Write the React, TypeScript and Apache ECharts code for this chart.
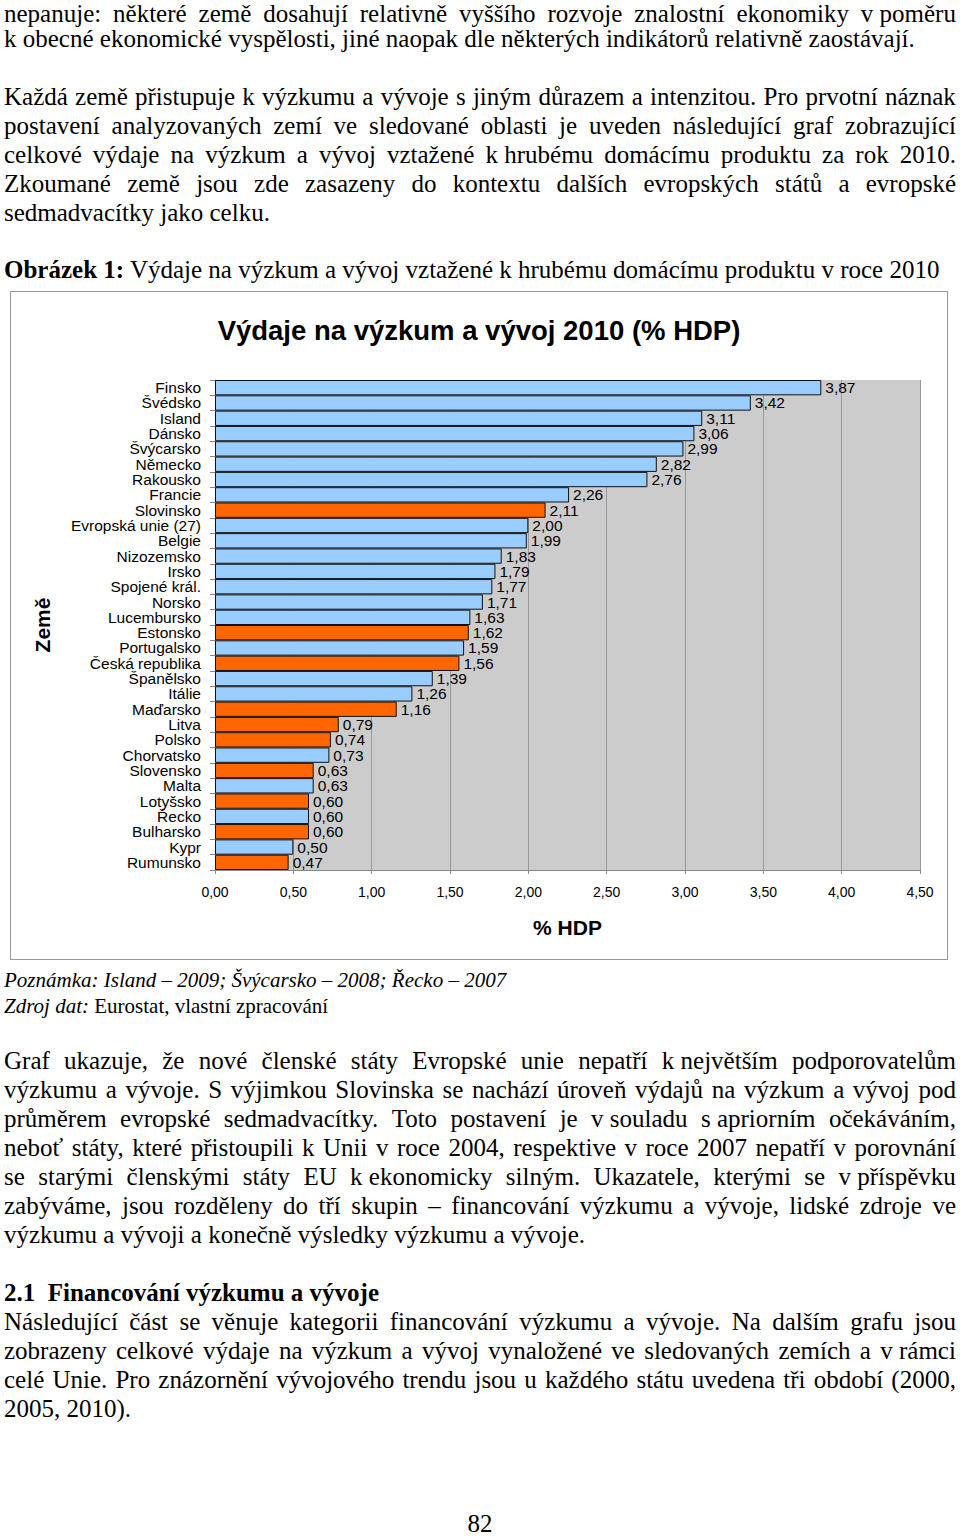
import React, { useEffect, useRef } from "react";
import * as echarts from "echarts";

const countries = [
  "Finsko", "Švédsko", "Island", "Dánsko", "Švýcarsko", "Německo", "Rakousko", "Francie",
  "Slovinsko", "Evropská unie (27)", "Belgie", "Nizozemsko", "Irsko", "Spojené král.", "Norsko",
  "Lucembursko", "Estonsko", "Portugalsko", "Česká republika", "Španělsko", "Itálie", "Maďarsko",
  "Litva", "Polsko", "Chorvatsko", "Slovensko", "Malta", "Lotyšsko", "Řecko", "Bulharsko", "Kypr", "Rumunsko",
];
const values = [
  3.87, 3.42, 3.11, 3.06, 2.99, 2.82, 2.76, 2.26,
  2.11, 2.0, 1.99, 1.83, 1.79, 1.77, 1.71,
  1.63, 1.62, 1.59, 1.56, 1.39, 1.26, 1.16,
  0.79, 0.74, 0.73, 0.63, 0.63, 0.6, 0.6, 0.6, 0.5, 0.47,
];
const newMembers = [
  "Slovinsko", "Estonsko", "Česká republika", "Maďarsko", "Litva", "Polsko",
  "Slovensko", "Lotyšsko", "Bulharsko", "Rumunsko",
];
const xMin = 0;
const xMax = 4.5;
const xStep = 0.5;

const chartTitle = "Výdaje na výzkum a vývoj 2010 (% HDP)";
const xName = "% HDP";
const yName = "Země";

const BLUE = "#99ccff";
const ORANGE = "#ff6600";
const SANS = "'Liberation Sans', Arial, sans-serif";
const SERIF = "'Liberation Serif', 'Times New Roman', serif";
const FS = 25;

const fmt = (v: number) => v.toFixed(2).replace(".", ",");

const para1 = [
  "nepanuje: některé země dosahují relativně vyššího rozvoje znalostní ekonomiky v\u00a0poměru",
  "k obecné ekonomické vyspělosti, jiné naopak dle některých indikátorů relativně zaostávají.",
];
const para2 = [
  "Každá země přistupuje k výzkumu a vývoje s jiným důrazem a intenzitou. Pro prvotní náznak",
  "postavení analyzovaných zemí ve sledované oblasti je uveden následující graf zobrazující",
  "celkové výdaje na výzkum a vývoj vztažené k\u00a0hrubému domácímu produktu za rok 2010.",
  "Zkoumané země jsou zde zasazeny do kontextu dalších evropských států a evropské",
  "sedmadvacítky jako celku.",
];
const para3 = [
  "Graf ukazuje, že nové členské státy Evropské unie nepatří k\u00a0největším podporovatelům",
  "výzkumu a vývoje. S výjimkou Slovinska se nachází úroveň výdajů na výzkum a vývoj pod",
  "průměrem evropské sedmadvacítky. Toto postavení je v\u00a0souladu s\u00a0apriorním očekáváním,",
  "neboť státy, které přistoupili k Unii v roce 2004, respektive v roce 2007 nepatří v porovnání",
  "se starými členskými státy EU k\u00a0ekonomicky silným. Ukazatele, kterými se v\u00a0příspěvku",
  "zabýváme, jsou rozděleny do tří skupin – financování výzkumu a vývoje, lidské zdroje ve",
  "výzkumu a vývoji a konečně výsledky výzkumu a vývoje.",
];
const para4 = [
  "Následující část se věnuje kategorii financování výzkumu a vývoje. Na dalším grafu jsou",
  "zobrazeny celkové výdaje na výzkum a vývoj vynaložené ve sledovaných zemích a v\u00a0rámci",
  "celé Unie. Pro znázornění vývojového trendu jsou u každého státu uvedena tři období (2000,",
  "2005, 2010).",
];

function Line(props: { y: number; text?: string; justify?: boolean; children?: any; size?: number; center?: boolean }) {
  const size = props.size ?? FS;
  const base: any = {
    position: "absolute",
    left: 4,
    width: 952,
    top: props.y - 16,
    height: 30,
    lineHeight: "30px",
    fontFamily: SERIF,
    fontSize: size,
    color: "#000",
    whiteSpace: "nowrap",
  };
  if (props.justify && props.text) {
    const words = props.text.split(" ");
    return (
      <div style={{ ...base, display: "flex", justifyContent: "space-between" }}>
        {words.map((w, i) => (
          <span key={i}>{w}</span>
        ))}
      </div>
    );
  }
  if (props.center) {
    return (
      <div
        style={{
          ...base,
          textAlign: "center",
          left: 0,
          width: 960,
          top: props.y - 13,
          height: 26,
          lineHeight: "26px",
        }}
      >
        {props.text}
      </div>
    );
  }
  return <div style={base}>{props.children ?? props.text}</div>;
}

function Para({ lines, ys }: { lines: string[]; ys: number[] }) {
  return (
    <>
      {lines.map((t, i) => (
        <Line key={i} y={ys[i]} text={t} justify={i < lines.length - 1} />
      ))}
    </>
  );
}

const seq = (y0: number, n: number) => Array.from({ length: n }, (_, i) => y0 + i * 29);

function Chart() {
  const ref = useRef<HTMLDivElement>(null);
  useEffect(() => {
    if (!ref.current) return;
    const chart = echarts.init(ref.current, undefined, { renderer: "svg" });
    chart.setOption({
      animation: false,
      backgroundColor: "#ffffff",
      title: {
        text: chartTitle,
        left: "center",
        top: 19,
        textStyle: { fontFamily: SANS, fontSize: 27.5, fontWeight: "bold", color: "#000" },
      },
      grid: {
        left: 204,
        right: 27,
        top: 88,
        bottom: 89,
        containLabel: false,
        show: true,
        backgroundColor: "#cccccc",
        borderWidth: 0,
      },
      xAxis: {
        type: "value",
        min: xMin,
        max: xMax,
        interval: xStep,
        name: xName,
        nameLocation: "middle",
        nameGap: 47,
        nameTextStyle: { fontFamily: SANS, fontSize: 21, fontWeight: "bold", color: "#000" },
        axisLine: { show: true, lineStyle: { color: "#888", width: 1 } },
        axisTick: { show: true, length: 4, lineStyle: { color: "#888" } },
        axisLabel: {
          formatter: (v: number) => fmt(v),
          fontFamily: SANS,
          fontSize: 14,
          color: "#000",
          margin: 15,
        },
        splitLine: { show: true, lineStyle: { color: "#999", width: 1 } },
      },
      yAxis: {
        type: "category",
        inverse: true,
        data: countries,
        name: yName,
        nameLocation: "middle",
        nameGap: 162,
        nameRotate: 90,
        nameTextStyle: { fontFamily: SANS, fontSize: 21, fontWeight: "bold", color: "#000" },
        axisLine: { show: true, lineStyle: { color: "#888", width: 1 } },
        axisTick: { show: true, length: 5, lineStyle: { color: "#888" } },
        axisLabel: { fontFamily: SANS, fontSize: 15.5, color: "#000", margin: 14, interval: 0 },
        splitLine: { show: false },
      },
      series: [
        {
          type: "bar",
          barCategoryGap: "0%",
          data: values.map((v, i) => ({
            value: v,
            itemStyle: {
              color: newMembers.includes(countries[i]) ? ORANGE : BLUE,
              borderColor: "#111",
              borderWidth: 1,
            },
          })),
          label: {
            show: true,
            position: "right",
            distance: 4,
            formatter: (p: any) => fmt(p.value),
            fontFamily: SANS,
            fontSize: 15.5,
            color: "#000",
          },
        },
      ],
    });
    return () => chart.dispose();
  }, []);
  return <div ref={ref} style={{ width: 936, height: 667 }} />;
}

export default function App() {
  return (
    <div
      style={{
        position: "absolute",
        left: 0,
        top: 0,
        width: 960,
        height: 1537,
        background: "#fff",
        overflow: "hidden",
      }}
    >
      <Para lines={para1} ys={[15, 40]} />
      <Para lines={para2} ys={seq(98, 5)} />
      <Line y={271}>
        <b>Obrázek 1:</b> Výdaje na výzkum a vývoj vztažené k hrubému domácímu produktu v roce 2010
      </Line>
      <div
        style={{
          position: "absolute",
          left: 10,
          top: 291,
          width: 938,
          height: 669,
          boxSizing: "border-box",
          border: "1px solid #999",
        }}
      >
        <Chart />
      </div>
      <Line y={981} size={21}>
        <i>Poznámka: Island – 2009; Švýcarsko – 2008; Řecko – 2007</i>
      </Line>
      <Line y={1007} size={21}>
        <i>Zdroj dat:</i> Eurostat, vlastní zpracování
      </Line>
      <Para lines={para3} ys={seq(1062, 7)} />
      <Line y={1294}>
        <b>2.1&nbsp;&nbsp;Financování výzkumu a vývoje</b>
      </Line>
      <Para lines={para4} ys={seq(1323, 4)} />
      <Line y={1524} text="82" center />
    </div>
  );
}
